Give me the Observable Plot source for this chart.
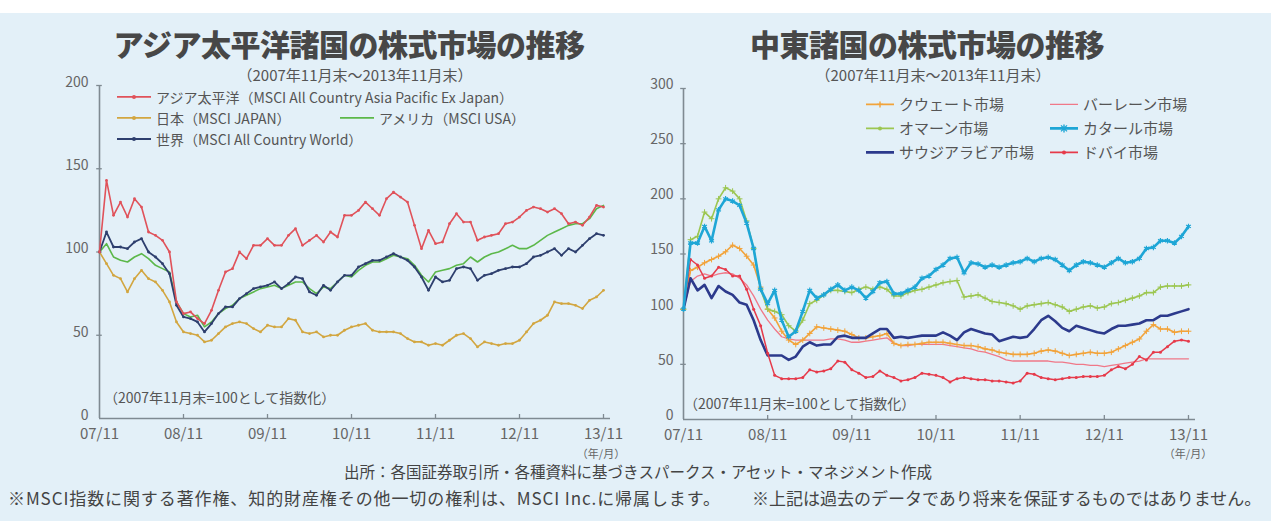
<!DOCTYPE html>
<html lang="ja">
<head>
<meta charset="utf-8">
<script src="https://cdn.jsdelivr.net/npm/d3@7"></script>
<script src="https://cdn.jsdelivr.net/npm/@observablehq/plot@0.6"></script>
<style>
  html, body { margin: 0; padding: 0; background: #ffffff; }
  #page { position: relative; width: 1271px; height: 521px; overflow: hidden; background: #ffffff;
          font-family: "Noto Sans CJK JP", "Noto Sans", sans-serif; color: #555; }
  #panel { position: absolute; left: 0; top: 13px; width: 1271px; height: 508px; background: #e3f0f8; }
  .abs { position: absolute; white-space: nowrap; line-height: 1.15; }
  .c { transform: translate(-50%, -50%); }
  .l { transform: translate(0, -50%); }
  .title { font-size: 30px; font-weight: 900; color: #474747; letter-spacing: -0.5px; line-height: 1; }
  .sub { font-size: 15px; color: #555; line-height: 1; }
  .leg { font-size: 14px; color: #555; display: flex; align-items: center; }
  .leg svg { margin-right: 5px; }
  .rleg { font-size: 15px; color: #555; display: flex; align-items: center; }
  .rleg svg { margin-right: 5px; }
  .note { font-size: 14px; color: #555; }
  .unit { font-size: 11px; color: #666; }
  .foot { font-size: 15.5px; color: #444; }
  .foot2 { font-size: 17px; color: #444; }
  #left, #right { position: absolute; top: 0; }
  #left { left: 0; }
  #right { left: 640px; }
</style>
</head>
<body>
<div id="page">
  <div id="panel"></div>
  <div id="left"></div>
  <div id="right"></div>
</div>
<script>
// ---------------- data ----------------
const tickMonths = [0, 12, 24, 36, 48, 60, 72];
const tickLabels = ["07/11", "08/11", "09/11", "10/11", "11/11", "12/11", "13/11"];
const yTicksLeft = [0, 50, 100, 150, 200];
const yTicksRight = [0, 50, 100, 150, 200, 250, 300];

// Left chart (monthly, 2007/11 = 100)
const asiaPacific = [100,143,122,130,121,132,127,112,110,107, 100,70,63,64,60,57,65,77,88,90,
  100,96,104,104,108,104,104,110,114,104, 107,110,106,112,109,122,122,125,130,126,
  122,132,136,133,130,116,102,113,105,106, 117,123,118,118,107,109,110,111,117,118,
  121,125,127,126,124,126,123,117,118,116, 121,128,127];
const japan = [100,93,86,84,76,84,89,84,82,77, 70,58,52,51,50,46,47,51,55,57,
  58,57,54,52,56,55,55,60,59,52, 51,52,49,50,50,53,55,56,57,53,
  52,52,52,51,48,46,46,44,45,44, 47,50,51,48,43,46,45,44,45,45,
  47,52,57,59,62,70,69,69,68,66, 71,73,77];
const usa = [100,105,97,95,94,97,99,96,92,90, 88,70,63,61,62,55,58,63,66,68,
  72,74,76,78,79,80,78,80,82,82, 78,75,79,78,82,86,85,89,92,94,
  94,96,98,97,96,92,86,82,88,89, 90,92,93,97,94,97,99,100,102,104,
  102,102,104,107,110,112,114,116,117,117, 120,126,128];
const world = [100,112,103,103,102,106,108,100,97,93, 87,68,61,60,58,52,57,63,67,67,
  72,75,78,79,80,82,78,81,85,84, 76,74,80,77,82,86,86,91,93,95,
  95,97,99,97,95,91,85,77,85,82, 83,90,91,90,83,86,87,89,90,91,
  91,93,97,98,100,102,98,102,100,104, 108,111,110];

// Right chart (monthly, 2007/11 = 100)
const kuwait = [100,135,138,142,145,148,152,158,155,148, 140,120,100,92,80,72,68,72,78,84,
  83,82,81,80,77,74,74,75,76,78, 69,67,68,68,69,70,70,70,69,68,
  67,67,66,64,63,61,60,59,59,59, 60,62,63,62,60,58,59,60,61,60,
  60,61,64,67,70,73,80,86,82,82, 79,80,80];
const oman = [100,163,166,188,182,200,210,207,200,180, 155,118,100,98,95,85,80,90,105,108,
  113,117,117,116,115,118,120,118,120,118, 112,112,115,117,118,120,122,124,125,126,
  111,112,113,110,107,106,105,103,100,103, 104,105,106,104,102,98,100,102,103,101,
  102,105,106,108,110,112,115,115,120,121, 121,121,122];
const saudi = [100,128,117,122,110,121,116,113,106,104, 90,72,58,58,58,54,57,66,70,67,
  68,68,75,76,74,74,74,78,82,82, 74,75,74,75,76,76,76,79,76,72,
  79,82,80,78,77,71,73,75,74,75, 82,90,94,89,83,80,85,83,81,79,
  78,82,85,85,86,87,90,90,94,94, 96,98,100];
const bahrain = [100,125,130,132,130,132,133,132,128,122, 112,100,90,82,75,73,72,72,72,72,
  72,73,73,72,70,70,71,72,73,74, 69,67,67,68,68,68,68,68,67,66,
  65,64,62,61,59,57,54,53,53,53, 53,53,53,52,52,51,50,50,49,49,
  48,49,50,51,52,53,55,55,55,55, 55,55,55];
const qatar = [100,160,160,175,162,190,200,198,194,178, 155,118,105,117,90,75,80,98,117,110,
  113,118,122,117,120,117,110,116,124,125, 114,114,117,120,128,130,136,140,146,147,
  133,142,141,138,140,138,140,142,143,146, 143,146,147,145,140,135,140,143,142,140,
  138,142,146,142,143,146,155,156,162,162, 160,166,175];
const dubai = [100,145,140,128,130,138,136,130,130,118, 100,85,60,40,37,37,37,38,45,43,
  44,46,53,52,45,42,38,39,44,40, 38,35,36,38,42,41,40,38,34,37,
  38,37,36,36,35,35,34,33,35,42, 41,38,37,36,37,38,38,39,39,39,
  40,45,48,46,50,57,54,61,61,66, 71,72,71];

// ---------------- styles ----------------
const axisColor = "#7f8a92";
const C = {
  asia: "#e0525a", japan: "#d2a640", usa: "#5cb84a", world: "#2e3f6e",
  kuwait: "#f2a33a", oman: "#9cc651", saudi: "#2c3a8c", bahrain: "#f07888", qatar: "#1ea6d6", dubai: "#e63a4a"
};
const fontFam = '"Noto Sans CJK JP", "Noto Sans", sans-serif';
const xi = (d, i) => i;
const yv = d => d;
const fmtX = d => tickLabels[tickMonths.indexOf(d)];

function series(arr, color, width, dot) {
  const marks = [Plot.lineY(arr, {x: xi, y: yv, stroke: color, strokeWidth: width, curve: "linear"})];
  if (dot) marks.push(Plot.dot(arr, {x: xi, y: yv, r: dot.r, symbol: dot.symbol || "circle",
    fill: dot.stroke ? "none" : color, stroke: dot.stroke ? color : "none", strokeWidth: dot.sw || 1}));
  return marks;
}

// ---------------- left chart ----------------
const left = Plot.plot({
  width: 640, height: 470,
  marginLeft: 99, marginRight: 30, marginTop: 85, marginBottom: 52,
  x: {domain: [0, 73], axis: null},
  y: {domain: [0, 200], axis: null},
  style: {background: "transparent", fontFamily: fontFam, color: "#666", overflow: "visible"},
  marks: [
    Plot.axisY({ticks: yTicksLeft, tickSize: 0, tickPadding: 11, fontSize: 14, dy: -3}),
    Plot.axisX({ticks: tickMonths, tickFormat: fmtX, tickSize: 0, tickPadding: 10, fontSize: 15}),
    Plot.ruleX(tickMonths.slice(1), {y1: 0, y2: 2.4, stroke: axisColor, strokeWidth: 1.3}),
    Plot.ruleY(yTicksLeft.slice(1), {x1: -0.4, x2: 0.4, stroke: axisColor, strokeWidth: 1.3}),
    Plot.ruleX([0], {y1: 0, y2: 200, stroke: axisColor, strokeWidth: 1.6}),
    Plot.ruleY([0], {x1: 0, x2: 73, stroke: axisColor, strokeWidth: 1.6}),
    ...series(japan, C.japan, 1.6, {r: 1.4}),
    ...series(usa, C.usa, 1.6, null),
    ...series(world, C.world, 1.8, {r: 1.4}),
    ...series(asiaPacific, C.asia, 1.6, {r: 1.4})
  ]
});
document.getElementById("left").appendChild(left);

// ---------------- right chart ----------------
const right = Plot.plot({
  width: 631, height: 470,
  marginLeft: 43, marginRight: 76, marginTop: 88, marginBottom: 51,
  x: {domain: [0, 73], axis: null},
  y: {domain: [0, 300], axis: null},
  style: {background: "transparent", fontFamily: fontFam, color: "#666", overflow: "visible"},
  marks: [
    Plot.axisY({ticks: yTicksRight, tickSize: 0, tickPadding: 10, fontSize: 14, dy: -4}),
    Plot.axisX({ticks: tickMonths, tickFormat: fmtX, tickSize: 0, tickPadding: 10, fontSize: 15}),
    Plot.ruleX(tickMonths.slice(1), {y1: 0, y2: 3.6, stroke: axisColor, strokeWidth: 1.3}),
    Plot.ruleY(yTicksRight.slice(1), {x1: -0.4, x2: 0.4, stroke: axisColor, strokeWidth: 1.3}),
    Plot.ruleX([0], {y1: 0, y2: 300, stroke: axisColor, strokeWidth: 1.6}),
    Plot.ruleY([0], {x1: 0, x2: 73, stroke: axisColor, strokeWidth: 1.6}),
    ...series(bahrain, C.bahrain, 1.3, null),
    ...series(kuwait, C.kuwait, 1.6, {r: 2, symbol: "plus", stroke: true, sw: 1}),
    ...series(oman, C.oman, 1.6, {r: 2, symbol: "plus", stroke: true, sw: 1}),
    ...series(saudi, C.saudi, 2.6, null),
    ...series(dubai, C.dubai, 1.5, {r: 1.5}),
    ...series(qatar, C.qatar, 2.6, {r: 2.6, symbol: "asterisk", stroke: true, sw: 1.2})
  ]
});
document.getElementById("right").appendChild(right);

// ---------------- text & legends ----------------
const page = document.getElementById("page");
function addText(html, cls, x, y) {
  const d = document.createElement("div");
  d.className = "abs " + cls;
  d.style.left = x + "px";
  d.style.top = y + "px";
  d.innerHTML = html;
  page.appendChild(d);
  return d;
}
function swatch(color, width, marker, w) {
  w = w || 34;
  const cx = w / 2;
  let m = "";
  if (marker === "dot") m = `<circle cx="${cx}" cy="6" r="2" fill="${color}"/>`;
  if (marker === "plus") m = `<path d="M${cx-3},6H${cx+3}M${cx},3V9" stroke="${color}" stroke-width="1.4"/>`;
  if (marker === "star") m = `<path d="M${cx-3},3L${cx+3},9M${cx+3},3L${cx-3},9M${cx},2V10" stroke="${color}" stroke-width="1.4"/>`;
  return `<svg width="${w}" height="12"><line x1="0" y1="6" x2="${w}" y2="6" stroke="${color}" stroke-width="${width}"/>${m}</svg>`;
}

addText("アジア太平洋諸国の株式市場の推移", "title c", 349, 43);
addText("（2007年11月末～2013年11月末）", "sub c", 355, 74);
addText(swatch(C.asia, 1.8, "dot") + "アジア太平洋（MSCI All Country Asia Pacific Ex Japan）", "leg l", 117, 97);
addText(swatch(C.japan, 1.8, "dot") + "日本（MSCI JAPAN）", "leg l", 117, 118);
addText(swatch(C.usa, 1.8, null) + "アメリカ（MSCI USA）", "leg l", 340, 118);
addText(swatch(C.world, 2, "dot") + "世界（MSCI All Country World）", "leg l", 117, 139);
addText("（2007年11月末=100として指数化）", "note l", 104, 397);
addText("（年/月）", "unit c", 601, 453);

addText("中東諸国の株式市場の推移", "title c", 927, 43);
addText("（2007年11月末～2013年11月末）", "sub c", 933, 74);
addText(swatch(C.kuwait, 1.8, "plus", 28) + "クウェート市場", "rleg l", 866, 104);
addText(swatch(C.oman, 1.8, "dot", 28) + "オマーン市場", "rleg l", 866, 128);
addText(swatch(C.saudi, 2.6, null, 28) + "サウジアラビア市場", "rleg l", 866, 152);
addText(swatch(C.bahrain, 1.4, null, 28) + "バーレーン市場", "rleg l", 1050, 104);
addText(swatch(C.qatar, 2.6, "star", 28) + "カタール市場", "rleg l", 1050, 128);
addText(swatch(C.dubai, 1.6, "dot", 28) + "ドバイ市場", "rleg l", 1050, 152);
addText("（2007年11月末=100として指数化）", "note l", 684, 403);
addText("（年/月）", "unit c", 1188, 453);

addText("出所：各国証券取引所・各種資料に基づきスパークス・アセット・マネジメント作成", "foot c", 638, 472);
addText("※MSCI指数に関する著作権、知的財産権その他一切の権利は、MSCI Inc.に帰属します。", "foot2 l", 8, 498).style.letterSpacing = "0.9px";
addText("※上記は過去のデータであり将来を保証するものではありません。", "foot2 l", 752, 498);
</script>
</body>
</html>
